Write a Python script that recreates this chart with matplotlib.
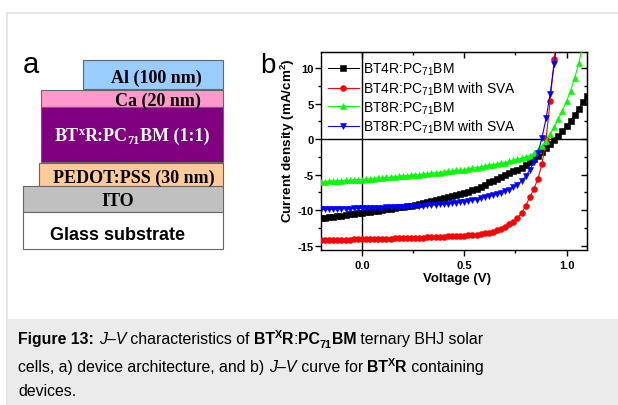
import matplotlib
matplotlib.use("Agg")
import matplotlib.pyplot as plt
from matplotlib.patches import Rectangle
from matplotlib.lines import Line2D
from matplotlib.ticker import MultipleLocator, FormatStrFormatter
from matplotlib.transforms import IdentityTransform

plt.rcParams["font.family"] = ["Liberation Sans", "DejaVu Sans"]
plt.rcParams["mathtext.default"] = "regular"
plt.rcParams["axes.unicode_minus"] = False

W, H = 618, 406

# ---------------- data ----------------
voltage = [-0.20, -0.18, -0.16, -0.14, -0.12, -0.10, -0.08, -0.06, -0.04, -0.02,
           0.00, 0.02, 0.04, 0.06, 0.08, 0.10, 0.12, 0.14, 0.16, 0.18,
           0.20, 0.22, 0.24, 0.26, 0.28, 0.30, 0.32, 0.34, 0.36, 0.38,
           0.40, 0.42, 0.44, 0.46, 0.48, 0.50, 0.52, 0.54, 0.56, 0.58,
           0.60, 0.62, 0.64, 0.66, 0.68, 0.70, 0.72, 0.74, 0.76, 0.78,
           0.80, 0.82, 0.84, 0.86, 0.88, 0.90, 0.92, 0.94, 0.96, 0.98,
           1.00, 1.02, 1.04, 1.06, 1.08, 1.10]

j_bt4r = [-11.15, -11.05, -11.0, -10.9, -10.85, -10.75, -10.7, -10.6, -10.55, -10.45,
          -10.4, -10.3, -10.25, -10.15, -10.05, -9.95, -9.9, -9.8, -9.7, -9.6,
          -9.55, -9.45, -9.35, -9.25, -9.1, -8.95, -8.85, -8.7, -8.6, -8.45,
          -8.3, -8.15, -8.0, -7.85, -7.75, -7.6, -7.4, -7.2, -6.95, -6.7,
          -6.4, -6.1, -5.85, -5.6, -5.3, -5.05, -4.8, -4.5, -4.3, -4.0,
          -3.65, -3.25, -2.85, -2.4, -1.85, -1.2, -0.65, -0.1, 0.45, 1.1,
          1.8, 2.6, 3.4, 4.3, 5.2, 6.0]

j_bt4r_sva = [-14.25, -14.25, -14.2, -14.2, -14.2, -14.15, -14.15, -14.15, -14.1, -14.1,
              -14.1, -14.1, -14.05, -14.05, -14.05, -14.0, -14.0, -14.0, -13.95, -13.95,
              -13.95, -13.9, -13.9, -13.9, -13.85, -13.85, -13.8, -13.8, -13.75, -13.75,
              -13.75, -13.7, -13.7, -13.65, -13.65, -13.6, -13.55, -13.5, -13.45, -13.4,
              -13.25, -13.15, -13.0, -12.85, -12.6, -12.3, -12.0, -11.6, -11.1, -10.4,
              -9.4, -8.2, -7.0, -5.6, -3.5, 0.0, 5.4, 11.2, 17.0]

j_bt8r = [-6.05, -6.0, -5.95, -5.95, -5.9, -5.85, -5.8, -5.8, -5.75, -5.7,
          -5.7, -5.65, -5.6, -5.55, -5.5, -5.45, -5.4, -5.35, -5.3, -5.25,
          -5.2, -5.15, -5.1, -5.05, -5.0, -4.95, -4.9, -4.8, -4.75, -4.7,
          -4.6, -4.55, -4.5, -4.4, -4.35, -4.3, -4.2, -4.1, -4.0, -3.9,
          -3.8, -3.7, -3.6, -3.5, -3.4, -3.3, -3.15, -3.0, -2.85, -2.7,
          -2.55, -2.35, -2.0, -1.6, -0.95, -0.25, 0.7, 1.65, 2.8, 4.0,
          5.3, 6.8, 8.6, 10.7, 13.2]

j_bt8r_sva = [-9.9, -9.9, -9.85, -9.85, -9.85, -9.8, -9.8, -9.8, -9.75, -9.75,
              -9.75, -9.7, -9.7, -9.7, -9.65, -9.65, -9.6, -9.6, -9.6, -9.55,
              -9.55, -9.5, -9.45, -9.45, -9.4, -9.35, -9.3, -9.3, -9.25, -9.2,
              -9.15, -9.1, -9.05, -8.95, -8.9, -8.8, -8.7, -8.6, -8.5, -8.35,
              -8.2, -8.05, -7.9, -7.75, -7.55, -7.35, -7.1, -6.8, -6.4, -5.9,
              -5.25, -4.35, -3.25, -2.0, 0.2, 2.9, 6.4, 10.6, 15.5]

series = [j_bt4r, j_bt4r_sva, j_bt8r, j_bt8r_sva]
series_labels = [r"BT4R:PC$_{71}$BM", r"BT4R:PC$_{71}$BM with SVA",
                 r"BT8R:PC$_{71}$BM", r"BT8R:PC$_{71}$BM with SVA"]
series_colors = ["#000000", "#ff0000", "#00ff00", "#0000ff"]
series_markers = ["s", "o", "^", "v"]

# device stack, top to bottom
layer_names = ["Al (100 nm)", "Ca (20 nm)", None, "PEDOT:PSS (30 nm)", "ITO", "Glass substrate"]
layer_colors = ["#99ccff", "#ff99cc", "#800080", "#ffcc99", "#c0c0c0", "#ffffff"]

# ---------------- figure ----------------
fig = plt.figure(figsize=(W / 100, H / 100), dpi=100)
px = IdentityTransform()
renderer = fig.canvas.get_renderer()

# page frame + caption box
fig.add_artist(Line2D([7, W], [H - 14, H - 14], transform=px, color="#e0e0e0", lw=1.2))
fig.add_artist(Line2D([7, 7], [H - 14, 0], transform=px, color="#e0e0e0", lw=1.2))
fig.add_artist(Rectangle((8, 0), W - 8, H - 320, transform=px, color="#ebebeb", lw=0))

# --- panel a: device architecture ---
boxes = [(83.3, 60.7, 223.3, 90.0), (40.7, 90.7, 223.3, 108.3), (40.7, 108.3, 223.3, 163.3),
         (39.3, 164.0, 223.3, 186.7), (23.3, 187.3, 223.3, 212.7), (23.3, 212.7, 223.3, 250.0)]
text_pos = [(156, 78.5), (158, 101.5), (132, 136), (134, 178), (118, 201.5), (118, 235.5)]
for (x0, y0, x1, y1), col in zip(boxes, layer_colors):
    fig.add_artist(Rectangle((x0, H - y1), x1 - x0, y1 - y0, transform=px,
                             facecolor=col, edgecolor="#666666", lw=0.8))

for name, (cx, cy) in zip(layer_names, text_pos):
    if name is None:
        continue
    fam = "Liberation Sans" if name.startswith("Glass") else "Liberation Serif"
    fig.text(cx, H - cy, name, transform=px, ha="center", va="center",
             family=fam, fontweight="bold", fontsize=13, color="black")


def advance(s, **kw):
    a = fig.text(0, 0, s + "|", transform=px, **kw)
    b = fig.text(0, 0, "|", transform=px, **kw)
    w = a.get_window_extent(renderer).width - b.get_window_extent(renderer).width
    a.remove()
    b.remove()
    return w


def draw_runs(x, y, runs, size, family, color="black", center=False):
    items = []
    for s, style, shift in runs:
        kw = dict(fontsize=size * (0.68 if shift else 1.0),
                  fontweight="bold" if "b" in style else "normal",
                  fontstyle="italic" if "i" in style else "normal",
                  family=family, color=color)
        items.append((s, kw, shift, advance(s, **kw)))
    if center:
        x -= sum(it[3] for it in items) / 2
    for s, kw, shift, w in items:
        fig.text(x, H - y + shift, s, transform=px, ha="left", va="baseline", **kw)
        x += w


# BTxR:PC71BM (1:1) label (white on purple)
draw_runs(132, 141, [("BT", "b", 0), ("x", "b", 6), ("R:PC", "b", 0), ("71", "b", -3),
                     ("BM (1:1)", "b", 0)], 13, "Liberation Serif", color="white", center=True)

fig.text(23, H - 73, "a", transform=px, fontsize=21, ha="left", va="baseline")
fig.text(260, H - 73, "b", transform=px, fontsize=20, ha="left", va="baseline")

# --- panel b: J-V curves ---
ax = fig.add_axes([321 / W, 1 - 251 / H, 266 / W, 198 / H])
for j, lab, col, mk in zip(series, series_labels, series_colors, series_markers):
    ax.plot(voltage[:len(j)], j, color=col, lw=0.8, marker=mk, ms=4.2,
            mec=col, mfc=col, mew=0.4, label=lab, zorder=3)
ax.axhline(0, color="black", lw=1.0, zorder=2)
ax.axvline(0, color="black", lw=1.0, zorder=2)

ax.set_xlim(-0.2, 1.1)
ax.set_ylim(-15.6, 12.25)
ax.xaxis.set_major_locator(MultipleLocator(0.5))
ax.xaxis.set_minor_locator(MultipleLocator(0.25))
ax.xaxis.set_major_formatter(FormatStrFormatter("%.1f"))
ax.yaxis.set_major_locator(MultipleLocator(5))
ax.yaxis.set_minor_locator(MultipleLocator(2.5))
ax.tick_params(which="major", direction="out", length=4, width=1, labelsize=8, pad=1.5)
ax.tick_params(which="minor", direction="out", length=2, width=1)
ax.tick_params(axis="x", which="major", pad=3)
for lab in ax.get_xticklabels() + ax.get_yticklabels():
    lab.set_fontweight("bold")
for sp in ax.spines.values():
    sp.set_linewidth(1.0)

top = ax.secondary_xaxis("top")
top.xaxis.set_major_locator(MultipleLocator(0.5))
top.xaxis.set_minor_locator(MultipleLocator(0.25))
top.tick_params(which="both", direction="in", labeltop=False, width=1)
top.tick_params(which="major", length=4)
top.tick_params(which="minor", length=2)
right = ax.secondary_yaxis("right")
right.yaxis.set_major_locator(MultipleLocator(5))
right.yaxis.set_minor_locator(MultipleLocator(2.5))
right.tick_params(which="both", direction="in", labelright=False, width=1)
right.tick_params(which="major", length=4)
right.tick_params(which="minor", length=2)

ax.set_xlabel("Voltage (V)", fontsize=9.5, fontweight="bold")
ax.set_ylabel(r"Current density (mA/cm$^{2}$)", fontsize=9.7, fontweight="bold")
ax.xaxis.set_label_coords(0.511, -0.112)
ax.yaxis.set_label_coords(-0.092, 0.558)

ax.legend(loc="upper left", bbox_to_anchor=(328, H - 62), bbox_transform=px,
          frameon=False, fontsize=10, handlelength=2.2, handletextpad=0.35,
          borderpad=0, borderaxespad=0, labelspacing=0.16)

# --- caption ---
cap_font = ["Liberation Sans", "DejaVu Sans"]
line1 = [("Figure 13:", "b", 0), (" ", "", 0), ("J–V", "i", 0), (" characteristics of ", "", 0),
         ("BT", "b", 0), ("X", "b", 6), ("R", "b", 0), (":", "", 0), ("PC", "b", 0),
         ("71", "b", -4), ("BM", "b", 0), (" ternary BHJ solar", "", 0)]
line2 = [("cells, a) device architecture, and b) ", "", 0), ("J–V", "i", 0),
         (" curve for ", "", 0), ("BT", "b", 0), ("X", "b", 6), ("R", "b", 0),
         (" containing", "", 0)]
line3 = [("devices.", "", 0)]
draw_runs(18.5, 344.5, line1, 11.4, cap_font)
draw_runs(18.5, 372.5, line2, 11.4, cap_font)
draw_runs(18.5, 396.5, line3, 11.4, cap_font)

fig.savefig("out.png", dpi=100)
